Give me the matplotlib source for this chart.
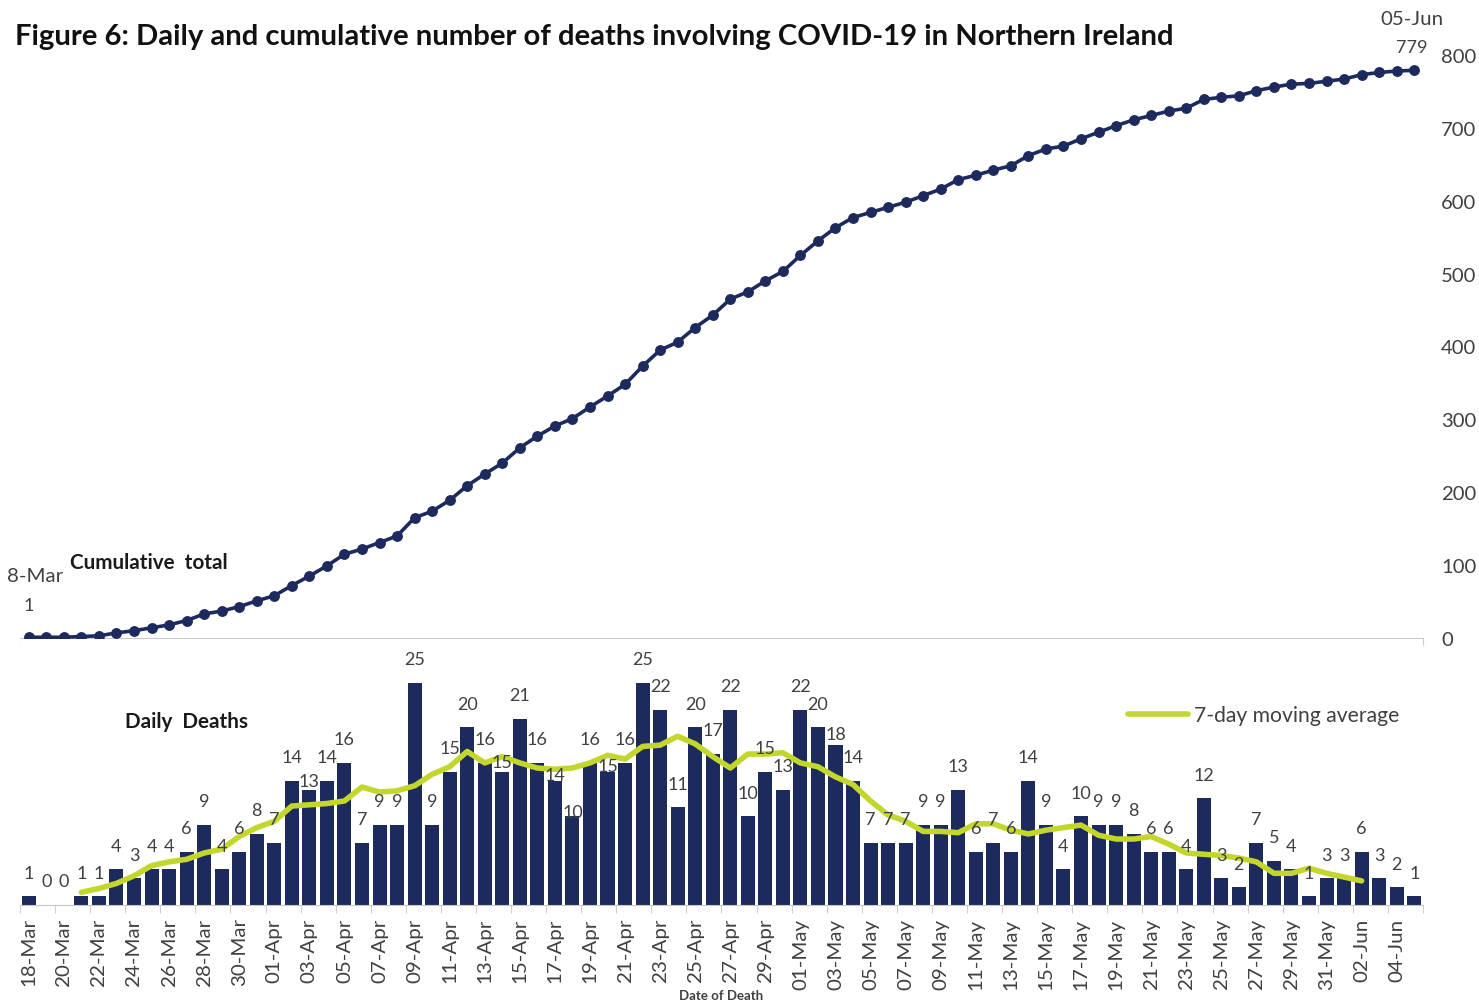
"""
Figure 6: daily and cumulative COVID-19 deaths in Northern Ireland, 18 Mar - 05 Jun.
"""
import matplotlib
matplotlib.use("Agg")
import matplotlib.pyplot as plt
import numpy as np
import pandas as pd

plt.rcParams["font.family"] = ["Lato", "DejaVu Sans"]

# ---- data ----
DATES = pd.date_range("2020-03-18", "2020-06-05", freq="D")
DAILY = [1, 0, 0, 1, 1, 4, 3, 4, 4, 6, 9, 4, 6, 8,                 # Mar 18-31
         7, 14, 13, 14, 16, 7, 9, 9, 25, 9,
         15, 20, 16, 15, 21, 16, 14, 10, 16, 15,
         16, 25, 22, 11, 20, 17, 22, 10, 15, 13,                    # Apr
         22, 20, 18, 14, 7, 7, 7, 9, 9, 13,
         6, 7, 6, 14, 9, 4, 10, 9, 9, 8,
         6, 6, 4, 12, 3, 2, 7, 5, 4, 1, 3,                          # May
         3, 6, 3, 2, 1]                                             # Jun 1-5
CUMULATIVE = np.cumsum(DAILY)
MOVING_AVG = pd.Series(DAILY, dtype=float).rolling(7, center=True).mean()
TICK_LABELS = [d.strftime("%d-%b") for d in DATES]
Y_TICKS = list(range(0, 801, 100))
FIRST_LABEL = "8-Mar"   # as printed in the original (leading digit lost at the edge)

# label nudges (points above bar top) where the original labels sit lower
LABEL_OFFSET = 17
LABEL_NUDGE = {16: 6, 27: 7, 30: 4, 31: 3, 33: 4, 46: 8}

NAVY = "#1c2a5e"
GREEN = "#c3d62c"
GREY_TXT = "#404040"
AXIS_GREY = "#c8c8c8"

W, H = 1479, 1003
fig = plt.figure(figsize=(W / 100, H / 100), dpi=100)
renderer = fig.canvas.get_renderer()


def fx(px):
    return px / W


def fy(py):
    return 1 - py / H


def size_for(s, width_px, weight="normal"):
    t = fig.text(0, 0, s, fontsize=10, fontweight=weight)
    w = t.get_window_extent(renderer).width
    t.remove()
    return 10 * width_px / w


FS_BAR = size_for("25", 21)
FS_TICK = size_for("18-Mar", 68)
FS_Y = size_for("800", 35)
FS_LEG = size_for("7-day moving average", 205)
FS_TITLE = size_for("Figure 6: Daily and cumulative number of deaths involving COVID-19 in Northern Ireland",
                    1163, "bold")
FS_PANEL = size_for("Cumulative  total", 158, "bold")

n = len(DAILY)
x = np.arange(n)

# ---- top panel: cumulative ----
ax_top = fig.add_axes([fx(20), fy(639), fx(1423) - fx(20), fy(56) - fy(639)])
ax_top.plot(x, CUMULATIVE, color=NAVY, lw=2.6, marker="o", ms=6.8, clip_on=False, zorder=3)
ax_top.set_xlim(-0.5, n - 0.5)
ax_top.set_ylim(0, 800)
ax_top.yaxis.tick_right()
ax_top.set_yticks(Y_TICKS)
ax_top.tick_params(axis="y", length=0, pad=13, labelsize=FS_Y, labelcolor=GREY_TXT)
ax_top.set_xticks(np.arange(-0.5, n, 1.0))
ax_top.tick_params(axis="x", length=5, color=AXIS_GREY, labelbottom=False)
for s in ["top", "left", "right"]:
    ax_top.spines[s].set_visible(False)
ax_top.spines["bottom"].set_color(AXIS_GREY)

# end-point labels: date over value
fig.text(fx(7), fy(577), FIRST_LABEL, ha="left", va="center", fontsize=FS_TICK, color=GREY_TXT)
ax_top.annotate(str(CUMULATIVE[0]), (x[0], CUMULATIVE[0]), xytext=(0, 23), textcoords="offset points",
                ha="center", va="center", fontsize=FS_BAR, color=GREY_TXT, annotation_clip=False)
ax_top.annotate(TICK_LABELS[-1], (x[-1], CUMULATIVE[-1]), xytext=(-2, 37), textcoords="offset points",
                ha="center", va="center", fontsize=FS_TICK, color=GREY_TXT, annotation_clip=False)
ax_top.annotate(str(CUMULATIVE[-1]), (x[-1], CUMULATIVE[-1]), xytext=(-2, 17), textcoords="offset points",
                ha="center", va="center", fontsize=FS_BAR, color=GREY_TXT, annotation_clip=False)

# ---- bottom panel: daily bars ----
ax_bot = fig.add_axes([fx(20), fy(906), fx(1423) - fx(20), fy(639.6) - fy(906)])
ax_bot.bar(x, DAILY, width=0.8, color=NAVY, zorder=2)
ax_bot.plot(x, MOVING_AVG, color=GREEN, lw=4.0, solid_capstyle="round",
            solid_joinstyle="round", zorder=3, label="7-day moving average")
for i, v in enumerate(DAILY):
    ax_bot.annotate(str(v), (x[i], v), xytext=(0, LABEL_NUDGE.get(i, LABEL_OFFSET)),
                    textcoords="offset points", ha="center", va="center",
                    fontsize=FS_BAR, color=GREY_TXT, zorder=4)
ax_bot.set_xlim(-0.5, n - 0.5)
ax_bot.set_ylim(0, 30)
ax_bot.set_yticks([])
ax_bot.set_xticks(x[::2])
ax_bot.set_xticklabels(TICK_LABELS[::2], rotation=90, fontsize=FS_TICK, color=GREY_TXT)
ax_bot.set_xticks(np.arange(-0.5, n, 2.0), minor=True)
ax_bot.tick_params(axis="x", which="major", length=0, pad=9)
ax_bot.tick_params(axis="x", which="minor", length=6, color=AXIS_GREY)
for s in ["top", "left", "right"]:
    ax_bot.spines[s].set_visible(False)
ax_bot.spines["bottom"].set_color(AXIS_GREY)

leg_px = FS_LEG * 100 / 72
ax_bot.legend(loc="center left", bbox_to_anchor=(fx(1128), fy(716)), bbox_transform=fig.transFigure,
              frameon=False, borderpad=0, borderaxespad=0, handlelength=60 / leg_px,
              handletextpad=6 / leg_px, prop={"size": FS_LEG}, labelcolor=GREY_TXT)

# ---- texts ----
fig.text(fx(15), fy(37), "Figure 6: Daily and cumulative number of deaths involving COVID-19 in Northern Ireland",
         ha="left", va="center", fontsize=FS_TITLE, fontweight="bold", color="#111111")
fig.text(fx(70), fy(563), "Cumulative  total", ha="left", va="center",
         fontsize=FS_PANEL, fontweight="bold", color="#1a1a1a")
fig.text(fx(125), fy(722), "Daily  Deaths", ha="left", va="center",
         fontsize=FS_PANEL, fontweight="bold", color="#1a1a1a")
fig.text(fx(721), fy(1002), "Date of Death", ha="center", va="bottom",
         fontsize=9.5, fontweight="bold", color=GREY_TXT)

fig.savefig("out.png", dpi=100)
plt.close(fig)
